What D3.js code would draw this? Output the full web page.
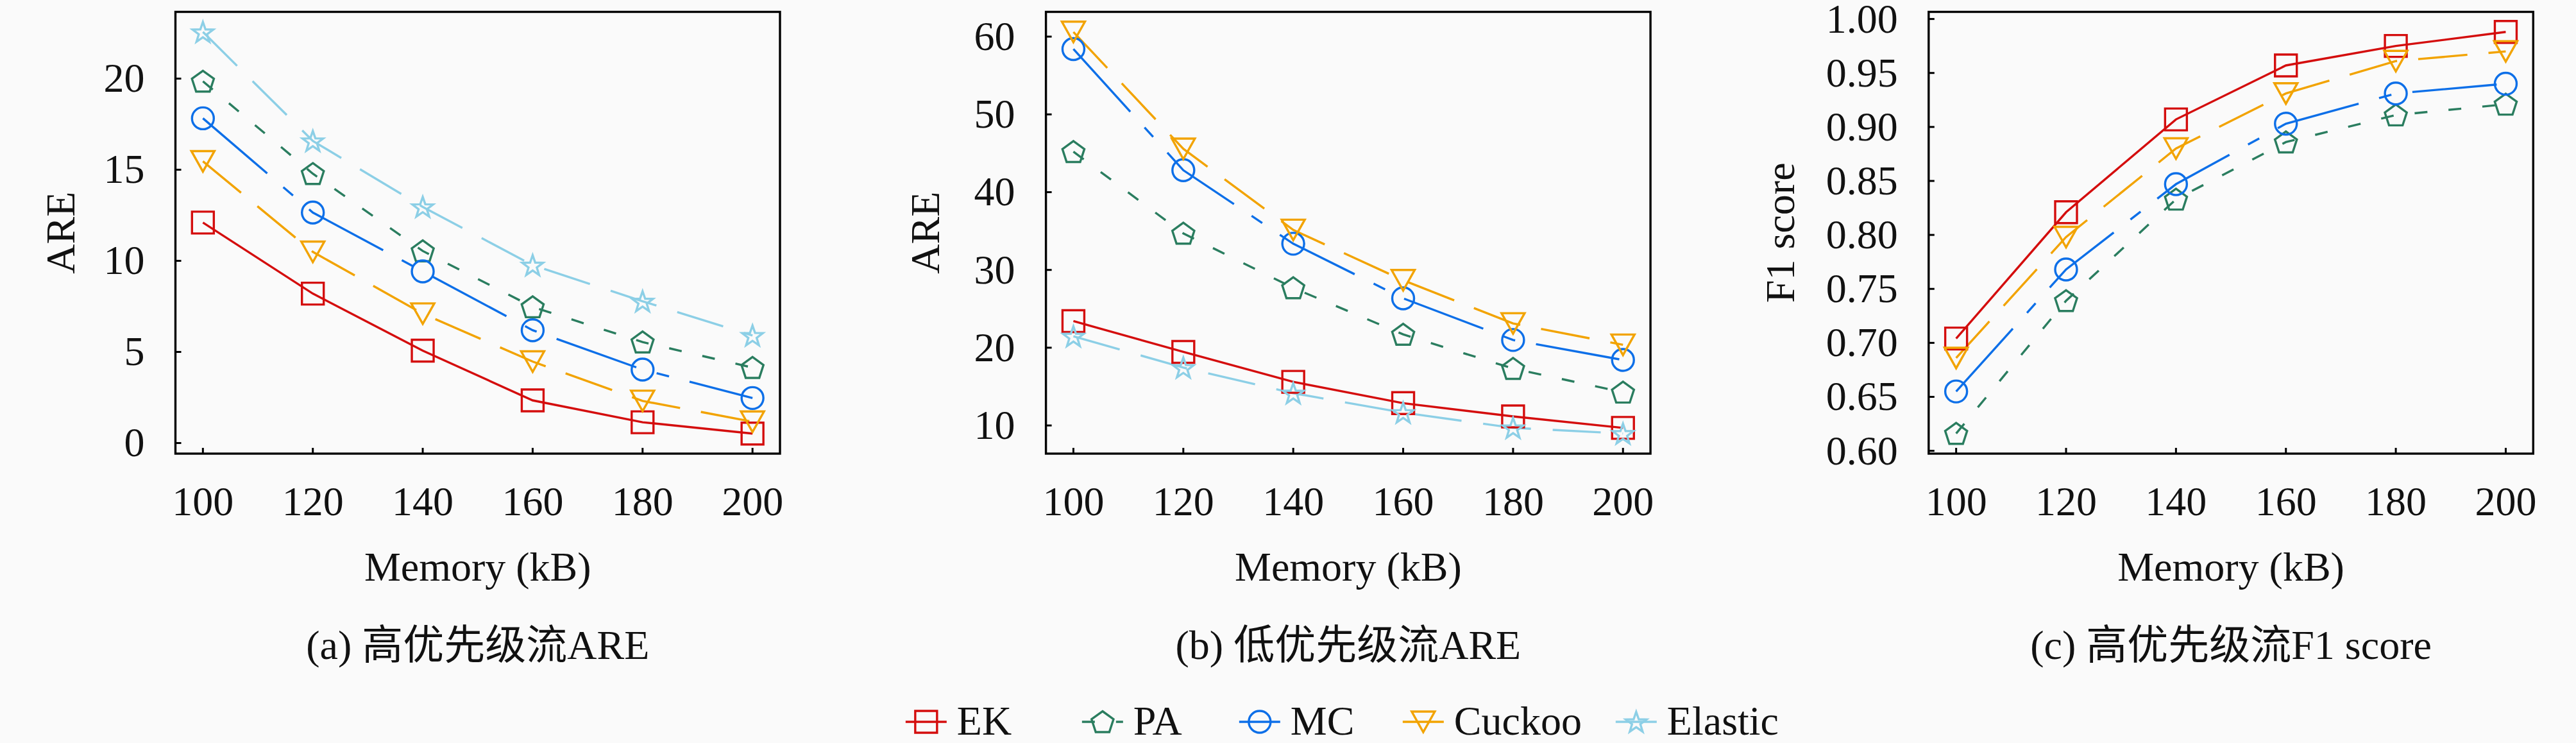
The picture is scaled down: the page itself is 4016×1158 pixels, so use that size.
<!DOCTYPE html>
<html lang="zh">
<head>
<meta charset="UTF-8">
<title>Memory vs ARE / F1 score</title>
<style>
  html, body { margin: 0; padding: 0; background: #fafafa; overflow: hidden; }
  svg text { font-family: "Liberation Serif", "Noto Sans CJK SC", serif; fill: #111; }
</style>
</head>
<body>
<svg id="chart"></svg>
<script src="https://cdn.jsdelivr.net/npm/d3@7"></script>
<script>
// ---- data ----
const memory = [100, 120, 140, 160, 180, 200];
const seriesNames = ["EK", "PA", "MC", "Cuckoo", "Elastic"];

// (a) high priority flows, ARE
const highAreEK      = [12.1, 8.2, 5.07, 2.34, 1.14, 0.52];
const highArePA      = [19.85, 14.78, 10.54, 7.47, 5.54, 4.14];
const highAreMC      = [17.82, 12.65, 9.42, 6.19, 4.03, 2.47];
const highAreCuckoo  = [15.46, 10.49, 7.1, 4.47, 2.31, 1.17];
const highAreElastic = [22.56, 16.58, 12.96, 9.76, 7.78, 5.9];

// (b) low priority flows, ARE
const lowAreEK      = [23.42, 19.46, 15.61, 12.87, 11.16, 9.69];
const lowArePA      = [45.2, 34.7, 27.69, 21.71, 17.32, 14.27];
const lowAreMC      = [58.4, 42.82, 33.37, 26.35, 20.99, 18.42];
const lowAreCuckoo  = [60.6, 45.57, 35.14, 28.67, 23.12, 20.37];
const lowAreElastic = [21.47, 17.44, 14.15, 11.65, 9.69, 8.96];

// (c) high priority flows, F1 score (no Elastic)
const highF1EK     = [0.704, 0.821, 0.907, 0.957, 0.975, 0.988];
const highF1PA     = [0.616, 0.739, 0.833, 0.886, 0.911, 0.921];
const highF1MC     = [0.655, 0.768, 0.847, 0.903, 0.931, 0.940];
const highF1Cuckoo = [0.686, 0.798, 0.880, 0.931, 0.961, 0.970];

const ticksA = [0, 5, 10, 15, 20];
const ticksB = [10, 20, 30, 40, 50, 60];
const ticksC = [0.60, 0.65, 0.70, 0.75, 0.80, 0.85, 0.90, 0.95, 1.00];
const xTicks = [100, 120, 140, 160, 180, 200];

// ---- styles ----
const colors  = ["#d40d0d", "#2a7d5f", "#0d6fe8", "#f2a300", "#8ccfe6"];
const dashes  = [null, "20,33", "132,33,20,33", "77,33", "75,34"];
const markers = ["square", "pentagon", "circle", "triangle", "star"];

const W = 4016, H = 1158;
const plotTop = 18.5, plotH = 688.5, plotW = 942.5;

const panels = [
  { left: 273.5, ylabel: "ARE", labelOff: 158, ticks: ticksA, fmt: d3.format("d"),
    caption: "(a) 高优先级流ARE",
    series: [highAreEK, highArePA, highAreMC, highAreCuckoo, highAreElastic] },
  { left: 1630.6, ylabel: "ARE", labelOff: 167, ticks: ticksB, fmt: d3.format("d"),
    caption: "(b) 低优先级流ARE",
    series: [lowAreEK, lowArePA, lowAreMC, lowAreCuckoo, lowAreElastic] },
  { left: 3006.8, ylabel: "F1 score", labelOff: 210, ticks: ticksC, fmt: d3.format(".2f"),
    caption: "(c) 高优先级流F1 score",
    series: [highF1EK, highF1PA, highF1MC, highF1Cuckoo] }
];

function markerPath(type) {
  const p = d3.path();
  if (type === "square") {
    p.rect(-17, -17, 34, 34);
  } else if (type === "circle") {
    p.moveTo(17, 0);
    p.arc(0, 0, 17, 0, 2 * Math.PI);
    p.closePath();
  } else if (type === "triangle") {
    p.moveTo(-18, -16); p.lineTo(18, -16); p.lineTo(0, 16); p.closePath();
  } else if (type === "pentagon") {
    for (let k = 0; k < 5; k++) {
      const a = -Math.PI / 2 + k * 2 * Math.PI / 5;
      const px = 18 * Math.cos(a), py = 18 * Math.sin(a) + 1.5;
      k === 0 ? p.moveTo(px, py) : p.lineTo(px, py);
    }
    p.closePath();
  } else if (type === "star") {
    for (let k = 0; k < 10; k++) {
      const a = -Math.PI / 2 + k * Math.PI / 5;
      const r = k % 2 === 0 ? 17 : 6.8;
      const px = r * Math.cos(a), py = r * Math.sin(a) + 1.5;
      k === 0 ? p.moveTo(px, py) : p.lineTo(px, py);
    }
    p.closePath();
  }
  return p.toString();
}

const svg = d3.select("#chart").attr("width", W).attr("height", H)
  .attr("viewBox", [0, 0, W, H]);
svg.append("rect").attr("width", W).attr("height", H).attr("fill", "#fafafa");

const padExtent = (lo, hi) => { const m = (hi - lo) * 0.05; return [lo - m, hi + m]; };

panels.forEach(pn => {
  const g = svg.append("g").attr("transform", `translate(${pn.left},${plotTop})`);
  const x = d3.scaleLinear().domain(padExtent(100, 200)).range([0, plotW]);
  const allV = pn.series.flat();
  const y = d3.scaleLinear().domain(padExtent(d3.min(allV), d3.max(allV))).range([plotH, 0]);

  // lines + markers
  const line = d3.line().x((d, i) => x(memory[i])).y(d => y(d));
  pn.series.forEach((vals, s) => {
    g.append("path")
      .attr("d", line(vals))
      .attr("fill", "none")
      .attr("stroke", colors[s])
      .attr("stroke-width", 3.4)
      .attr("stroke-dasharray", dashes[s]);
  });
  pn.series.forEach((vals, s) => {
    g.selectAll(null).data(vals).enter().append("path")
      .attr("d", markerPath(markers[s]))
      .attr("transform", (d, i) => `translate(${x(memory[i])},${y(d)})`)
      .attr("fill", "none")
      .attr("stroke", colors[s])
      .attr("stroke-width", 3.4)
      .attr("stroke-linejoin", "miter");
  });

  // frame
  g.append("rect").attr("width", plotW).attr("height", plotH)
    .attr("fill", "none").attr("stroke", "#000").attr("stroke-width", 3.4);

  // x ticks (inward)
  xTicks.forEach(t => {
    g.append("line").attr("x1", x(t)).attr("x2", x(t))
      .attr("y1", plotH).attr("y2", plotH - 9)
      .attr("stroke", "#000").attr("stroke-width", 3);
    g.append("text").attr("x", x(t)).attr("y", plotH + 96)
      .attr("text-anchor", "middle").attr("font-size", 64).text(t);
  });
  // y ticks (inward)
  pn.ticks.forEach(t => {
    g.append("line").attr("x1", 0).attr("x2", 9)
      .attr("y1", y(t)).attr("y2", y(t))
      .attr("stroke", "#000").attr("stroke-width", 3);
    g.append("text").attr("x", -48).attr("y", y(t) + 21)
      .attr("text-anchor", "end").attr("font-size", 64).text(pn.fmt(t));
  });

  // axis labels
  g.append("text")
    .attr("transform", `translate(${-pn.labelOff},${plotH / 2}) rotate(-90)`)
    .attr("text-anchor", "middle").attr("font-size", 64).text(pn.ylabel);
  g.append("text").attr("x", plotW / 2).attr("y", plotH + 198)
    .attr("text-anchor", "middle").attr("font-size", 64).text("Memory (kB)");
  g.append("text").attr("x", plotW / 2).attr("y", plotH + 320)
    .attr("text-anchor", "middle").attr("font-size", 64).text(pn.caption);
});

// legend, centred under the middle panel
const legendCx = panels[1].left + plotW / 2;
const legendOffsets = [-658, -383, -138, 117, 449];
const legendY = 1125;
const lg = svg.append("g").attr("transform", `translate(${legendCx},0)`);
seriesNames.forEach((name, s) => {
  const cx = legendOffsets[s];
  lg.append("line").attr("x1", cx - 32).attr("x2", cx + 32)
    .attr("y1", legendY).attr("y2", legendY)
    .attr("stroke", colors[s]).attr("stroke-width", 3.4)
    .attr("stroke-dasharray", dashes[s]);
  lg.append("path").attr("d", markerPath(markers[s]))
    .attr("transform", `translate(${cx},${legendY})`)
    .attr("fill", "none").attr("stroke", colors[s]).attr("stroke-width", 3.4);
  lg.append("text").attr("x", cx + 48).attr("y", 1145)
    .attr("font-size", 64).text(name);
});
</script>
</body>
</html>
